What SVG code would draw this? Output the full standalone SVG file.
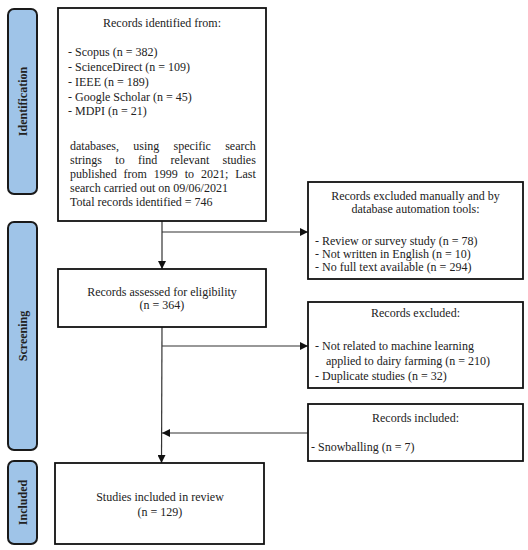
<svg xmlns="http://www.w3.org/2000/svg" width="528" height="550" viewBox="0 0 528 550">
<defs>
<style>
.box{fill:#fff;stroke:#111;stroke-width:1.8}
.lab{fill:#9fc4e8;stroke:#1a1a1a;stroke-width:2}
.t{font-family:"Liberation Serif","Times New Roman",serif;font-size:12px;fill:#222}
.c{text-anchor:middle}
.side{font-family:"Liberation Serif","Times New Roman",serif;font-size:12px;font-weight:bold;fill:#222;text-anchor:middle}
.ln{fill:none;stroke:#333;stroke-width:1.2}
</style>
<marker id="ah" markerUnits="userSpaceOnUse" markerWidth="9" markerHeight="8" refX="8" refY="4" orient="auto">
<path d="M0,0 L8,4 L0,8 Z" fill="#111"/>
</marker>
</defs>
<rect width="528" height="550" fill="#fff"/>

<g id="phase-identification">
<rect class="lab" x="8" y="9" width="29" height="185" rx="6"/>
<text class="side" transform="translate(26.5,101.5) rotate(-90)">Identification</text>
</g>
<g id="phase-screening">
<rect class="lab" x="8" y="222" width="29" height="228" rx="6"/>
<text class="side" transform="translate(26.5,336) rotate(-90)">Screening</text>
</g>
<g id="phase-included">
<rect class="lab" x="8" y="461" width="29" height="83" rx="6"/>
<text class="side" transform="translate(26.5,502.5) rotate(-90)">Included</text>
</g>

<g id="connectors">
<line class="ln" x1="162" y1="221" x2="162" y2="269" marker-end="url(#ah)"/>
<line class="ln" x1="162" y1="232" x2="308" y2="232" marker-end="url(#ah)"/>
<line class="ln" x1="162" y1="327" x2="161.5" y2="463" marker-end="url(#ah)"/>
<line class="ln" x1="162" y1="346" x2="308" y2="346" marker-end="url(#ah)"/>
<line class="ln" x1="308" y1="433" x2="162" y2="433" marker-end="url(#ah)"/>
</g>

<g id="records-identified">
<rect class="box" x="58" y="8" width="208" height="213"/>
<text class="t c" x="162" y="27">Records identified from:</text>
<text class="t" x="68" y="56">- Scopus (n = 382)</text>
<text class="t" x="68" y="71">- ScienceDirect (n = 109)</text>
<text class="t" x="68" y="85.5">- IEEE (n = 189)</text>
<text class="t" x="68" y="100.5">- Google Scholar (n = 45)</text>
<text class="t" x="68" y="115">- MDPI (n = 21)</text>
<text class="t" x="70" y="150" word-spacing="11.3">databases, using specific search</text>
<text class="t" x="70" y="164" word-spacing="10.3">strings to find relevant studies</text>
<text class="t" x="70" y="178" word-spacing="3.9">published from 1999 to 2021; Last</text>
<text class="t" x="70" y="192">search carried out on 09/06/2021</text>
<text class="t" x="70" y="206">Total records identified = 746</text>
</g>

<g id="records-excluded-manually">
<rect class="box" x="308" y="182" width="215" height="97"/>
<text class="t c" x="415.5" y="200">Records excluded manually and by</text>
<text class="t c" x="415.5" y="213">database automation tools:</text>
<text class="t" x="315" y="245">- Review or survey study (n = 78)</text>
<text class="t" x="315" y="258">- Not written in English (n = 10)</text>
<text class="t" x="315" y="271">- No full text available (n = 294)</text>
</g>

<g id="records-assessed">
<rect class="box" x="58" y="269" width="208" height="58"/>
<text class="t c" x="162" y="296">Records assessed for eligibility</text>
<text class="t c" x="162" y="309">(n = 364)</text>
</g>

<g id="records-excluded">
<rect class="box" x="308" y="302" width="215" height="86"/>
<text class="t c" x="415.5" y="317">Records excluded:</text>
<text class="t" x="315" y="350">- Not related to machine learning</text>
<text class="t" x="326" y="365">applied to dairy farming (n = 210)</text>
<text class="t" x="315" y="380">- Duplicate studies (n = 32)</text>
</g>

<g id="records-included">
<rect class="box" x="308" y="404" width="215" height="57"/>
<text class="t c" x="415.5" y="422">Records included:</text>
<text class="t" x="311" y="451">- Snowballing (n = 7)</text>
</g>

<g id="studies-included">
<rect class="box" x="55" y="463" width="209" height="81"/>
<text class="t c" x="160" y="501">Studies included in review</text>
<text class="t c" x="160" y="516">(n = 129)</text>
</g>
</svg>
